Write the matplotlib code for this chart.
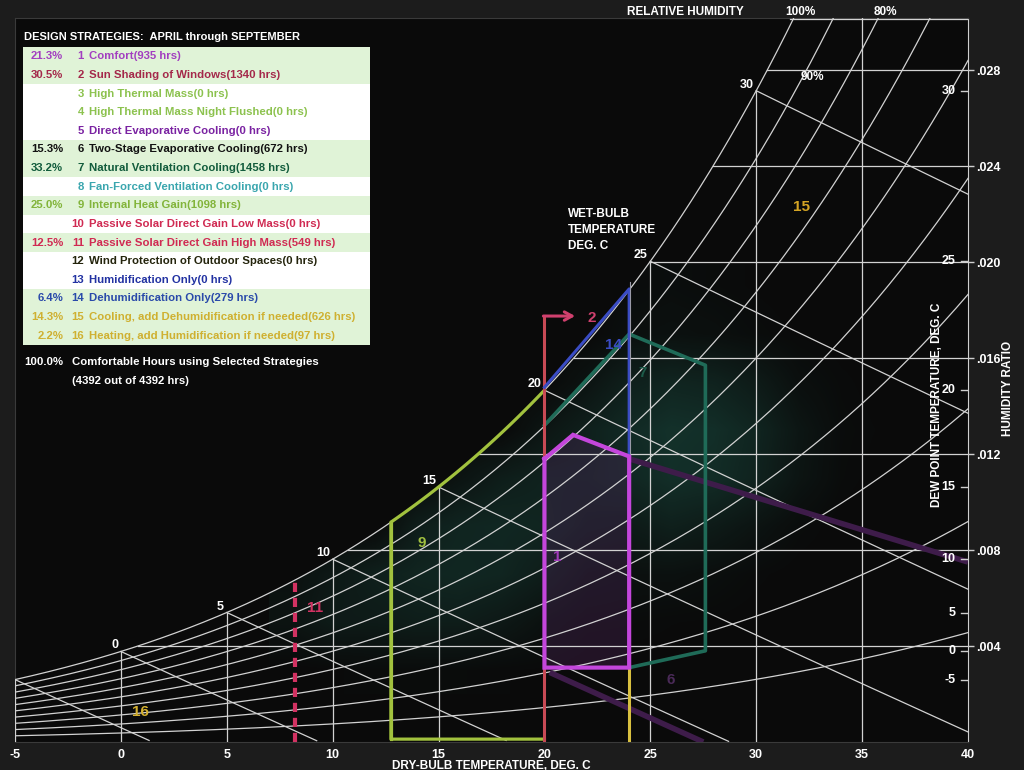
import numpy as np
import matplotlib.pyplot as plt
from matplotlib.patches import Rectangle, Polygon

plt.rcParams['font.family'] = ['Liberation Sans', 'DejaVu Sans']
plt.rcParams['font.weight'] = 'bold'
plt.rcParams['axes.unicode_minus'] = False

W_PX, H_PX = 1024, 770

# chart range
t_min, t_max = -5, 40
w_top = 0.03017

# legend data
strategies = ['Comfort', 'Sun Shading of Windows', 'High Thermal Mass',
              'High Thermal Mass Night Flushed', 'Direct Evaporative Cooling',
              'Two-Stage Evaporative Cooling', 'Natural Ventilation Cooling',
              'Fan-Forced Ventilation Cooling', 'Internal Heat Gain',
              'Passive Solar Direct Gain Low Mass', 'Passive Solar Direct Gain High Mass',
              'Wind Protection of Outdoor Spaces', 'Humidification Only',
              'Dehumidification Only', 'Cooling, add Dehumidification if needed',
              'Heating, add Humidification if needed']
hours = [935, 1340, 0, 0, 0, 672, 1458, 0, 1098, 0, 549, 0, 0, 279, 626, 97]
total_hours = 4392
legend_colors = ['#a23ec0', '#a4284a', '#8cc24e', '#8cc24e', '#7a22a2', '#121212',
                 '#125c3c', '#3aa6ae', '#82b43a', '#d02a52', '#d02a52', '#24240c',
                 '#2232a2', '#2a4aaa', '#cfb030', '#cfb030']

# chart grid levels
rh_levels = [0.1, 0.2, 0.3, 0.4, 0.5, 0.6, 0.7, 0.8, 0.9]
wetbulb_levels = [-5, 0, 5, 10, 15, 20, 25, 30]
dry_bulb_lines = [0, 5, 10, 15, 20, 25, 30, 35]
w_lines = [0.004, 0.008, 0.012, 0.016, 0.020, 0.024, 0.028]
dewpoint_ticks = [-5, 0, 5, 10, 15, 20, 25, 30]
x_ticks = [-5, 0, 5, 10, 15, 20, 25, 30, 35, 40]

# hourly weather cloud, estimated density (rows: humidity ratio, cols: dry bulb)
cloud_t = [8, 10, 12, 14, 16, 18, 20, 22, 24, 26, 28, 30, 32, 34, 36]
cloud_w = [0.003, 0.005, 0.007, 0.009, 0.011, 0.013, 0.015, 0.017, 0.019]
cloud_density = [
    [0.00, 0.02, 0.05, 0.05, 0.05, 0.03, 0.02, 0.00, 0.00, 0.00, 0.00, 0.00, 0.00, 0.00, 0.00],
    [0.20, 0.35, 0.35, 0.40, 0.40, 0.30, 0.15, 0.06, 0.05, 0.03, 0.02, 0.00, 0.00, 0.00, 0.00],
    [0.15, 0.30, 0.45, 0.55, 0.60, 0.55, 0.40, 0.20, 0.15, 0.15, 0.10, 0.04, 0.00, 0.00, 0.00],
    [0.00, 0.00, 0.00, 0.40, 0.55, 0.60, 0.55, 0.40, 0.35, 0.45, 0.35, 0.20, 0.06, 0.00, 0.00],
    [0.00, 0.00, 0.00, 0.00, 0.20, 0.40, 0.50, 0.50, 0.60, 0.75, 0.70, 0.50, 0.22, 0.05, 0.00],
    [0.00, 0.00, 0.00, 0.00, 0.00, 0.00, 0.25, 0.45, 0.65, 0.80, 0.75, 0.55, 0.25, 0.06, 0.02],
    [0.00, 0.00, 0.00, 0.00, 0.00, 0.00, 0.00, 0.20, 0.45, 0.55, 0.50, 0.35, 0.12, 0.04, 0.00],
    [0.00, 0.00, 0.00, 0.00, 0.00, 0.00, 0.00, 0.00, 0.12, 0.15, 0.12, 0.06, 0.02, 0.00, 0.00],
    [0.00, 0.00, 0.00, 0.00, 0.00, 0.00, 0.00, 0.00, 0.05, 0.08, 0.05, 0.02, 0.00, 0.00, 0.00],
]

# strategy zone outlines (dry bulb degC, humidity ratio)
comfort_t = [20, 21.35, 24, 24, 20, 20]
comfort_w = [0.0118, 0.0128, 0.0119, 0.0031, 0.0031, 0.0118]
natvent_t = [20, 24, 27.6, 27.6, 24]
natvent_w = [0.0132, 0.0170, 0.0157, 0.0038, 0.0031]
dehum_t = [20, 24, 24]
dehum_w = [0.01478, 0.01888, 0.0119]
shading_t, shading_w_top = 20, 0.01775
shading_arrow_t = 21.45
heatgain_t = [12.75, 20]
solar_t = 8.22
evap_low_t, evap_low_w = [20.25, 27.5], [0.0029, 0.0]
evap_high_t, evap_high_w = [24, 40], [0.0118, 0.0075]
cooling_t, cooling_w_top = 24, 0.0031

zone_labels = ['1', '2', '14', '7', '9', '11', '16', '15', '6']
zone_label_t = [20.6, 22.25, 23.25, 24.65, 14.2, 9.15, 0.9, 32.15, 25.95]
zone_label_w = [0.0077, 0.01767, 0.01654, 0.01538, 0.00829, 0.00558, 0.00125, 0.02229, 0.00258]
zone_label_colors = ['#a03cb8', '#d0406e', '#3a4cc4', '#1c5a48', '#a0c040', '#d23262',
                     '#d4b030', '#d4a424', '#4a2a58']

wetbulb_title = ['WET-BULB', 'TEMPERATURE', 'DEG. C']

P_ATM = 101.325


def p_ws(t):
    t = np.asarray(t, dtype=float)
    return 0.61094 * np.exp(17.625 * t / (t + 243.04))


def w_rh(t, rh=1.0):
    p = rh * p_ws(t)
    return 0.621945 * p / (P_ATM - p)


def w_wetbulb(t, twb):
    ws = w_rh(twb)
    return ((2501 - 2.326 * twb) * ws - 1.006 * (t - twb)) / (2501 + 1.86 * t - 4.186 * twb)


_ts = np.linspace(-10, 50, 6001)


def t_sat(w):
    return np.interp(w, w_rh(_ts), _ts)


fig = plt.figure(figsize=(W_PX / 100, H_PX / 100), dpi=100, facecolor='#1c1c1c')
ax = fig.add_axes([15 / W_PX, 28 / H_PX, 953 / W_PX, 724 / H_PX])
ax.set_facecolor('#0a0a0a')
ax.set_xlim(t_min, t_max)
ax.set_ylim(0, w_top)
for s in ax.spines.values():
    s.set_color('#3a3a3a')
ax.spines['right'].set_color('#cfcfcf')

grid_kw = dict(color='#d2d2d2', lw=0.9, zorder=3)
tt = np.linspace(t_min, t_max, 400)

# region under the saturation curve, used to clip the cloud
sat_poly = Polygon(np.column_stack([np.r_[tt, t_max, t_min], np.r_[w_rh(tt), 0, 0]]),
                   closed=True, transform=ax.transData)

rgba = np.zeros((len(cloud_w), len(cloud_t), 4))
rgba[..., 0], rgba[..., 1], rgba[..., 2] = 0.15, 0.50, 0.42
rgba[..., 3] = np.array(cloud_density) * 0.42
im = ax.imshow(rgba, origin='lower', aspect='auto', interpolation='bilinear',
               extent=[cloud_t[0] - 1, cloud_t[-1] + 1, cloud_w[0] - 0.001, cloud_w[-1] + 0.001],
               zorder=1)
im.set_clip_path(sat_poly)

# comfort zone fill
ax.fill(comfort_t, comfort_w, color='#5a2a66', alpha=0.3, lw=0, zorder=2)

# saturation and RH curves
ax.plot(tt, w_rh(tt), **grid_kw)
for rh in rh_levels:
    ax.plot(tt, w_rh(tt, rh), **grid_kw)
# dry bulb verticals
for t in dry_bulb_lines:
    ax.plot([t, t], [0, min(w_rh(t), w_top)], **grid_kw)
# humidity ratio horizontals
for w in w_lines:
    ax.plot([t_sat(w), t_max], [w, w], **grid_kw)
ax.plot([t_sat(w_top) - 0.2, t_max], [w_top - 0.00003, w_top - 0.00003], **grid_kw)
ax.plot([t_min, t_min], [0, w_rh(t_min)], **grid_kw)
# wet bulb lines
for twb in wetbulb_levels:
    t_line = np.linspace(twb, t_max, 200)
    w_line = w_wetbulb(t_line, twb)
    keep = w_line >= 0
    ax.plot(t_line[keep], w_line[keep], **grid_kw)
    if twb > -5:
        ax.annotate(str(twb), (twb, w_rh(twb)), xytext=(-2, 0),
                    textcoords='offset points', ha='right', va='bottom',
                    color='white', fontsize=9, zorder=6)

# strategy zones
ax.plot(evap_low_t, evap_low_w, color='#3e1c4a', lw=4, zorder=4, solid_capstyle='butt')
ax.plot(evap_high_t, evap_high_w, color='#3e1c4a', lw=4, zorder=4, solid_capstyle='butt')

hg_t = np.linspace(heatgain_t[0], heatgain_t[1], 100)
ax.plot(np.r_[heatgain_t[1], heatgain_t[0], hg_t], np.r_[0.00012, 0.00012, w_rh(hg_t)],
        color='#a2c23e', lw=2.3, zorder=4)
ax.plot([heatgain_t[0], heatgain_t[0]], [0.00012, w_rh(heatgain_t[0])], color='#a2c23e', lw=2.3, zorder=4)

ax.plot([solar_t, solar_t], [0, w_rh(solar_t)], color='#d23262', lw=3, ls=(0, (2.2, 1.4)), zorder=4)

ax.plot(natvent_t, natvent_w, color='#1f6b58', lw=2.6, zorder=4)
ax.plot(dehum_t, dehum_w, color='#3a4cc4', lw=2.2, zorder=5)
ax.plot([dehum_t[1] + 0.03] * 2, [dehum_w[1] + 0.0003, dehum_w[2]], color='#9a9aa8', lw=0.8, zorder=5)

ax.plot([cooling_t, cooling_t], [0, cooling_w_top], color='#d8c040', lw=2.2, zorder=4)
ax.plot([shading_t, shading_t], [0, shading_w_top], color='#c84a55', lw=2.2, zorder=4)
ax.annotate('', xy=(shading_arrow_t, shading_w_top), xytext=(shading_t - 0.05, shading_w_top),
            arrowprops=dict(arrowstyle='->,head_length=0.55,head_width=0.3',
                            color='#d0406e', lw=2.2, shrinkA=0, shrinkB=0), zorder=5)

ax.plot(comfort_t, comfort_w, color='#c446dc', lw=3, zorder=5, solid_joinstyle='miter')

for lab, t, w, c in zip(zone_labels, zone_label_t, zone_label_w, zone_label_colors):
    ax.text(t, w, lab, color=c, fontsize=11, ha='center', va='center', zorder=6)

# axes ticks and labels
ax.set_xticks(x_ticks)
ax.tick_params(axis='x', length=0, pad=5, colors='white', labelsize=9)
ax.yaxis.tick_right()
ax.set_yticks(w_lines)
ax.set_yticklabels(['.%03d' % round(w * 1000) for w in w_lines])
ax.tick_params(axis='y', length=4, width=1, color='#cfcfcf', pad=2, colors='white', labelsize=9)
for td in dewpoint_ticks:
    w = w_rh(td)
    ax.plot([39.65, 40], [w, w], color='#cfcfcf', lw=1, zorder=5)
    ax.text(39.4, w, str(td), color='white', fontsize=9, ha='right', va='center', zorder=6)

ax.text(38.55, 0.01405, 'DEW POINT TEMPERATURE, DEG. C', rotation=90, color='white',
        fontsize=8.5, ha='center', va='center', zorder=6)
fig.text(1008 / W_PX, 1 - 388 / H_PX, 'HUMIDITY RATIO', rotation=90, color='white',
         fontsize=8.5, ha='center', va='center')
fig.text(491 / W_PX, 1 - 766 / H_PX, 'DRY-BULB TEMPERATURE, DEG. C', color='white',
         fontsize=8.5, ha='center', va='center')

for k, line in enumerate(wetbulb_title):
    fig.text(568 / W_PX, 1 - (214 + 16 * k) / H_PX, line, color='white', fontsize=8.5,
             ha='left', va='center')

fig.text(685 / W_PX, 1 - 12 / H_PX, 'RELATIVE HUMIDITY', color='white', fontsize=8.5,
         ha='center', va='center')
fig.text(800 / W_PX, 1 - 12 / H_PX, '100%', color='white', fontsize=8.5, ha='center', va='center')
fig.text(885 / W_PX, 1 - 12 / H_PX, '80%', color='white', fontsize=8.5, ha='center', va='center')
ax.text(32.65, 0.0277, '90%', color='white', fontsize=8.5, ha='center', va='center', zorder=6)


# legend panel (figure pixel coordinates)
def fx(x):
    return x / W_PX


def fy(y):
    return 1 - y / H_PX


fig.text(fx(24), fy(37), 'DESIGN STRATEGIES:  APRIL through SEPTEMBER', color='white',
         fontsize=8, va='center')
row_h = 298 / 16
for i, (name, h, c) in enumerate(zip(strategies, hours, legend_colors)):
    y0 = 47 + i * row_h
    bg = '#e0f3d7' if h > 0 else 'white'
    fig.add_artist(Rectangle((fx(23), fy(y0 + row_h)), 347 / W_PX, row_h / H_PX,
                             transform=fig.transFigure, facecolor=bg, edgecolor='none'))
    yc = fy(y0 + row_h / 2)
    if h > 0:
        fig.text(fx(63), yc, '%.1f%%' % (100 * h / total_hours), color=c, fontsize=8.2,
                 ha='right', va='center')
    fig.text(fx(84), yc, str(i + 1), color=c, fontsize=8.2, ha='right', va='center')
    fig.text(fx(89), yc, '%s(%d hrs)' % (name, h), color=c, fontsize=8.2, ha='left', va='center')

fig.text(fx(63), fy(362), '%.1f%%' % (100.0 * total_hours / total_hours), color='white',
         fontsize=8.2, ha='right', va='center')
fig.text(fx(72), fy(362), 'Comfortable Hours using Selected Strategies', color='white',
         fontsize=8.2, ha='left', va='center')
fig.text(fx(72), fy(381), '(%d out of %d hrs)' % (total_hours, total_hours), color='white',
         fontsize=8.2, ha='left', va='center')

fig.savefig('out.png', dpi=100, facecolor=fig.get_facecolor())
